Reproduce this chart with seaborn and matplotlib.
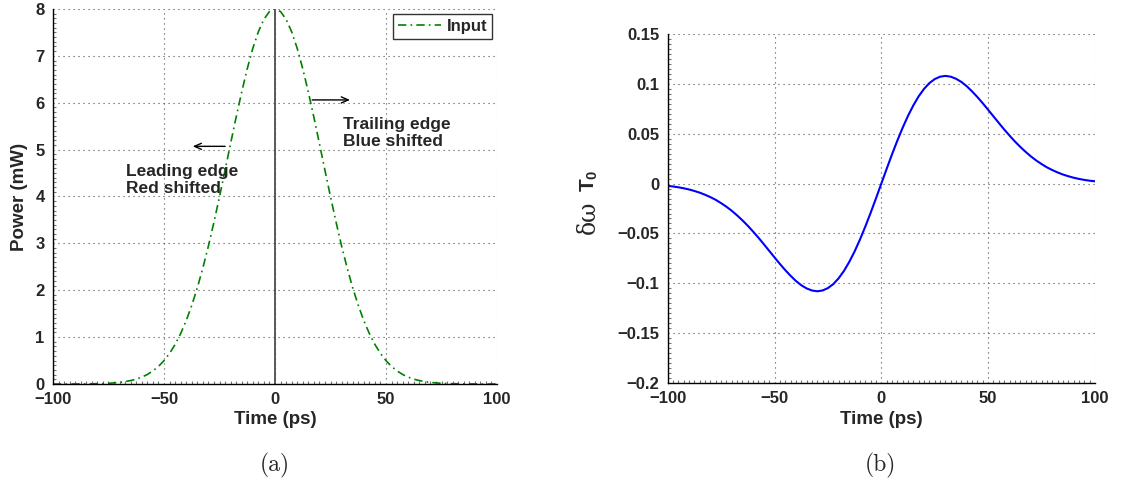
import numpy as np
import pandas as pd
import seaborn as sns
import matplotlib
matplotlib.use("Agg")
import matplotlib.pyplot as plt
from matplotlib.ticker import MultipleLocator, FixedLocator, FuncFormatter

# Time axis (ps)
time_ps = [-100, -97.5, -95, -92.5, -90, -87.5, -85, -82.5, -80, -77.5,
           -75, -72.5, -70, -67.5, -65, -62.5, -60, -57.5, -55, -52.5,
           -50, -47.5, -45, -42.5, -40, -37.5, -35, -32.5, -30, -27.5,
           -25, -22.5, -20, -17.5, -15, -12.5, -10, -7.5, -5, -2.5,
           0, 2.5, 5, 7.5, 10, 12.5, 15, 17.5, 20, 22.5,
           25, 27.5, 30, 32.5, 35, 37.5, 40, 42.5, 45, 47.5,
           50, 52.5, 55, 57.5, 60, 62.5, 65, 67.5, 70, 72.5,
           75, 77.5, 80, 82.5, 85, 87.5, 90, 92.5, 95, 97.5, 100]

# Input pulse power (mW)
power_mw = [0.0, 0.0, 0.0, 0.0, 0.001, 0.0016, 0.0026, 0.0042, 0.0065, 0.010,
            0.015, 0.0232, 0.0346, 0.0507, 0.0732, 0.104, 0.1465, 0.203,
            0.278, 0.374, 0.498, 0.652, 0.843, 1.075, 1.352, 1.677, 2.051,
            2.474, 2.943, 3.453, 3.995, 4.558, 5.130, 5.693, 6.230, 6.725,
            7.160, 7.515, 7.781, 7.945,
            8.0,
            7.945, 7.781, 7.515, 7.160, 6.725, 6.230, 5.693, 5.130, 4.558,
            3.995, 3.453, 2.943, 2.474, 2.051, 1.677, 1.352, 1.075, 0.843,
            0.652, 0.498, 0.374, 0.278, 0.203, 0.1465, 0.104, 0.0732, 0.0507,
            0.0346, 0.0232, 0.015, 0.010, 0.0065, 0.0042, 0.0026, 0.0016,
            0.001, 0.0, 0.0, 0.0, 0.0]

# Normalised frequency chirp
chirp = [-0.0023, -0.0029, -0.0037, -0.0047, -0.0059, -0.0074, -0.0091,
         -0.0112, -0.0136, -0.0163, -0.0196, -0.0232, -0.0273, -0.0319,
         -0.0369, -0.0423, -0.0482, -0.0543, -0.0608, -0.0674, -0.0740,
         -0.0805, -0.0867, -0.0924, -0.0976, -0.1019, -0.1051, -0.1072,
         -0.1080, -0.1072, -0.1048, -0.1008, -0.0950, -0.0876, -0.0785,
         -0.0680, -0.0561, -0.0431, -0.0293, -0.0148,
         0.0,
         0.0148, 0.0293, 0.0431, 0.0561, 0.0680, 0.0785, 0.0876, 0.0950,
         0.1008, 0.1048, 0.1072, 0.1080, 0.1072, 0.1051, 0.1019, 0.0976,
         0.0924, 0.0867, 0.0805, 0.0740, 0.0674, 0.0608, 0.0543, 0.0482,
         0.0423, 0.0369, 0.0319, 0.0273, 0.0232, 0.0196, 0.0163, 0.0136,
         0.0112, 0.0091, 0.0074, 0.0059, 0.0047, 0.0037, 0.0029, 0.0023]

x_ticks = [-100, -50, 0, 50, 100]
power_ticks = [0, 1, 2, 3, 4, 5, 6, 7, 8]
chirp_ticks = [-0.2, -0.15, -0.1, -0.05, 0, 0.05, 0.1, 0.15]

df = pd.DataFrame({"t": time_ps, "P": power_mw, "dw": chirp})

sns.set_style("white")
plt.rcParams["font.family"] = ["Liberation Sans", "DejaVu Sans"]
plt.rcParams["font.weight"] = "bold"
plt.rcParams["axes.labelweight"] = "bold"
plt.rcParams["mathtext.fontset"] = "custom"
plt.rcParams["mathtext.rm"] = "Liberation Sans"
plt.rcParams["mathtext.bf"] = "Liberation Sans:bold"
plt.rcParams["mathtext.it"] = "Liberation Sans:italic"

fig = plt.figure(figsize=(11.25, 4.86), dpi=100)
ax1 = fig.add_axes([0.0471, 0.2099, 0.3947, 0.7716])
ax2 = fig.add_axes([0.5935, 0.2119, 0.3798, 0.7181])


def minus_fmt(v, pos):
    s = f"{v:g}"
    return s.replace("-", "\u2212")


def style_axes(ax, yticks, yminor, ylim):
    ax.set_xlim(-100, 100)
    ax.set_ylim(*ylim)
    ax.xaxis.set_major_locator(FixedLocator(x_ticks))
    ax.yaxis.set_major_locator(FixedLocator(yticks))
    ax.xaxis.set_minor_locator(MultipleLocator(2.5))
    ax.yaxis.set_minor_locator(MultipleLocator(yminor))
    ax.xaxis.set_major_formatter(FuncFormatter(minus_fmt))
    ax.yaxis.set_major_formatter(FuncFormatter(minus_fmt))
    for side in ("top", "right"):
        ax.spines[side].set_visible(False)
    for side in ("left", "bottom"):
        ax.spines[side].set_color("black")
        ax.spines[side].set_linewidth(1.0)
    ax.tick_params(which="major", direction="out", length=4, width=1,
                   color="black", labelsize=12, pad=2)
    ax.tick_params(which="minor", direction="in", length=2.5, width=0.8,
                   color="0.45", left=True, bottom=True)
    ax.grid(True, which="major", linestyle=(0, (1, 3.5)), color="0.3",
            linewidth=0.8)
    ax.set_xlabel("Time (ps)", fontsize=13.5, fontweight="bold", labelpad=3)


# (a) input pulse
sns.lineplot(data=df, x="t", y="P", ax=ax1, color="#008000", linewidth=1.2,
             label="Input")
ax1.lines[-1].set_dashes([5, 2.5, 1, 2.5])
ax1.vlines(0, 0, max(power_mw), colors="0.3", linewidth=1.3)
style_axes(ax1, power_ticks, 0.1, (0, 8))
ax1.set_ylabel("Power (mW)", fontsize=13.5, fontweight="bold", labelpad=5)

leg = ax1.legend(loc="upper right", fontsize=12, frameon=True,
                 fancybox=False, edgecolor="black", borderpad=0.3,
                 handlelength=2.6, handletextpad=0.3, borderaxespad=0.3)
leg.get_frame().set_linewidth(1.0)
for txt in leg.get_texts():
    txt.set_fontweight("bold")

arrow_style = dict(arrowstyle="->,head_length=0.5,head_width=0.22",
                   color="black", lw=1.0)
ax1.annotate("", xy=(-38.3, 5.07), xytext=(-21.2, 5.07),
             arrowprops=arrow_style)
ax1.text(-67.1, 4.35, "Leading edge\nRed shifted", fontsize=12.5,
         fontweight="bold", va="center", ha="left", linespacing=1.15)
ax1.annotate("", xy=(35.0, 6.06), xytext=(15.5, 6.06),
             arrowprops=arrow_style)
ax1.text(30.5, 5.35, "Trailing edge\nBlue shifted", fontsize=12.5,
         fontweight="bold", va="center", ha="left", linespacing=1.15)

# (b) frequency chirp
sns.lineplot(data=df, x="t", y="dw", ax=ax2, color="#0000ff", linewidth=1.5)
style_axes(ax2, chirp_ticks, 0.005, (-0.2, 0.15))
ax2.set_ylabel("")
ax2.text(-0.186, 0.475, "\u03b4\u03c9", transform=ax2.transAxes,
         rotation=90, family="DejaVu Serif", fontweight="normal",
         fontsize=17, ha="center", va="center")
ax2.text(-0.183, 0.58, r"$\mathbf{T_0}$", transform=ax2.transAxes,
         rotation=90, fontsize=15, ha="center", va="center")

fig.text(0.2444, 0.043, "(a)", family="cmr10", fontsize=17,
         fontweight="normal", ha="center", va="center")
fig.text(0.7822, 0.043, "(b)", family="cmr10", fontsize=17,
         fontweight="normal", ha="center", va="center")

fig.savefig("out.png", dpi=100)
